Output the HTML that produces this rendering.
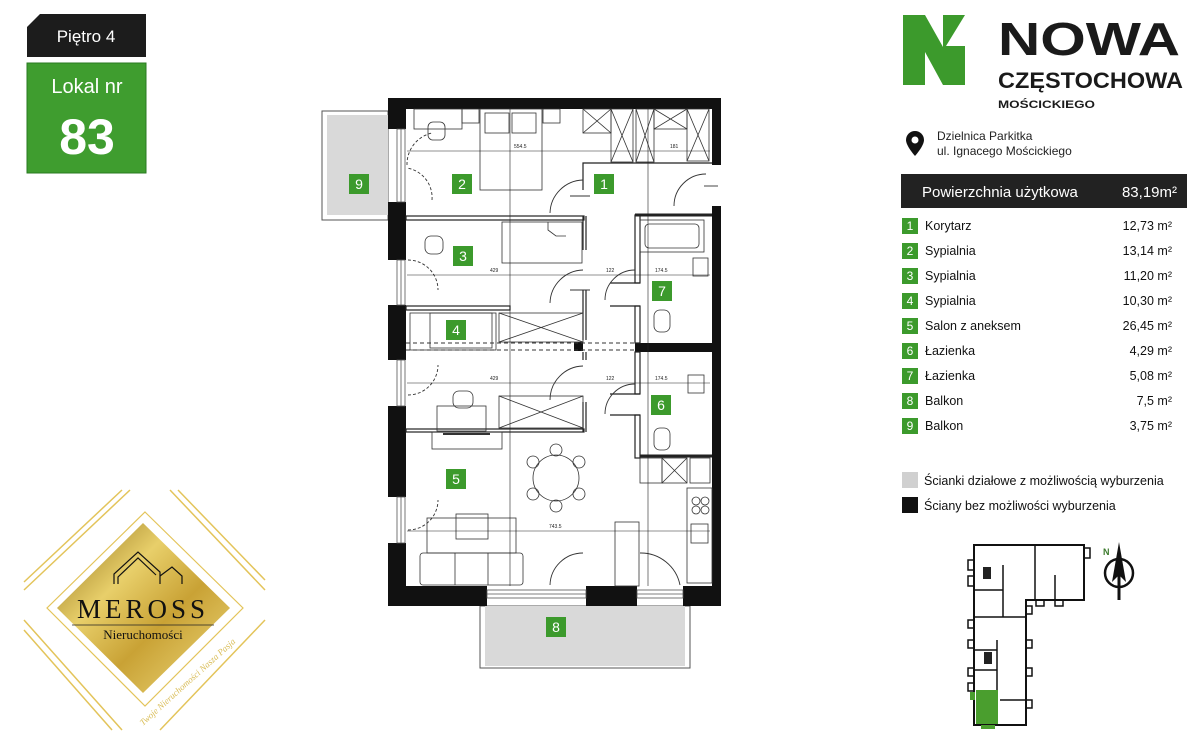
<!DOCTYPE html>
<html><head><meta charset="utf-8"><style>
html,body{margin:0;padding:0;background:#fff;}
body{width:1200px;height:744px;position:relative;overflow:hidden;font-family:"Liberation Sans",sans-serif;}
.abs{position:absolute;}
.row{position:absolute;left:902px;width:270px;height:17px;font-size:12.5px;color:#111;}
.row .sq{position:absolute;left:0;top:0;width:16px;height:16px;background:#3c9a2c;color:#fff;font-size:12px;text-align:center;line-height:16px;}
.row .n{position:absolute;left:23px;top:1px;}
.row .v{position:absolute;right:0;top:1px;}
</style></head><body>

<svg class="abs" style="left:0;top:0" width="160" height="180">
  <polygon points="40,14 146,14 146,57 27,57 27,27" fill="#1c1c1c"/>
  <text x="86" y="42" font-size="17" fill="#fff" text-anchor="middle" font-family="Liberation Sans">Piętro 4</text>
  <rect x="27" y="63" width="119" height="110" fill="#3f9d2f" stroke="#2a7a20"/>
  <text x="87" y="93" font-size="20" fill="#fff" text-anchor="middle" font-family="Liberation Sans">Lokal nr</text>
  <text x="87" y="154" font-size="50" font-weight="bold" fill="#fff" text-anchor="middle" font-family="Liberation Sans">83</text>
</svg>

<svg class="abs" style="left:0;top:480px" width="280" height="264">
  <defs><linearGradient id="g" x1="0" y1="0" x2="1" y2="1">
    <stop offset="0" stop-color="#8a6a14"/><stop offset="0.35" stop-color="#e8cf6a"/><stop offset="0.6" stop-color="#c9a235"/><stop offset="1" stop-color="#f0dc80"/></linearGradient></defs>
  <g fill="none" stroke="#e3c45a" stroke-width="1.5">
    <polyline points="24,110 130,10"/><polyline points="24,102 122,10"/>
    <polyline points="170,10 265,110"/><polyline points="178,10 265,100"/>
    <polyline points="24,140 122,250"/><polyline points="24,150 112,250"/>
    <polyline points="265,140 160,250"/>
    <polygon points="145,32 243,128 145,226 47,128" stroke-width="1.2"/>
  </g>
  <polygon points="143,43 230,128 143,213 57,128" fill="url(#g)"/>
  <g fill="none" stroke="#111" stroke-width="1.2">
    <polyline points="114,104 114,94 138,72 160,92 160,104"/>
    <polyline points="118,104 118,97 138,78 156,95"/>
    <polyline points="160,96 172,87 182,96 182,104"/>
  </g>
  <line x1="72" y1="145" x2="214" y2="145" stroke="#222" stroke-width="0.8"/>
  <text x="143" y="138" font-size="27" fill="#111" text-anchor="middle" font-family="Liberation Serif" letter-spacing="4">MEROSS</text>
  <text x="143" y="159" font-size="13" fill="#111" text-anchor="middle" font-family="Liberation Serif">Nieruchomości</text>
  <text x="0" y="0" font-size="9" fill="#d9bc55" font-style="italic" font-family="Liberation Serif" transform="translate(143,246) rotate(-42)">Twoje Nieruchomości Nasza Pasja</text>
</svg>

<svg class="abs" style="left:0;top:0" width="760" height="700" font-family="Liberation Sans">
  <rect x="322" y="111" width="66" height="109" fill="#fff" stroke="#555"/>
  <rect x="327" y="115" width="61" height="100" fill="#d9d9d9"/>
  <rect x="480" y="606" width="210" height="62" fill="#fff" stroke="#555"/>
  <rect x="485" y="606" width="200" height="60" fill="#d9d9d9"/>
  <g fill="#111">
    <rect x="388" y="98" width="333" height="11"/>
    <rect x="388" y="98" width="18" height="31"/>
    <rect x="388" y="202" width="18" height="58"/>
    <rect x="388" y="305" width="18" height="55"/>
    <rect x="388" y="406" width="18" height="91"/>
    <rect x="388" y="543" width="18" height="63"/>
    <rect x="712" y="98" width="9" height="67"/>
    <rect x="712" y="206" width="9" height="400"/>
    <rect x="388" y="586" width="99" height="20"/>
    <rect x="586" y="586" width="51" height="20"/>
    <rect x="683" y="586" width="38" height="20"/>
    <rect x="635" y="343" width="86" height="9"/>
    <rect x="574" y="342" width="9" height="9"/>
  </g>
  <g fill="none" stroke="#555" stroke-width="0.8">
    <rect x="397" y="129" width="8" height="73"/><line x1="401" y1="129" x2="401" y2="202"/>
    <rect x="397" y="260" width="8" height="45"/><line x1="401" y1="260" x2="401" y2="305"/>
    <rect x="397" y="360" width="8" height="46"/><line x1="401" y1="360" x2="401" y2="406"/>
    <rect x="397" y="497" width="8" height="46"/><line x1="401" y1="497" x2="401" y2="543"/>
    <rect x="487" y="590" width="99" height="8"/><line x1="487" y1="594" x2="586" y2="594"/>
    <rect x="637" y="590" width="46" height="8"/><line x1="637" y1="594" x2="683" y2="594"/>
  </g>
  <g fill="none" stroke="#222" stroke-width="1.2">
    <rect x="406" y="216" width="178" height="4"/>
    <rect x="406" y="306" width="104" height="4"/>
    <rect x="406" y="429" width="178" height="3"/>
    <line x1="583" y1="216" x2="583" y2="250"/><line x1="586" y1="216" x2="586" y2="250"/>
    <line x1="583" y1="290" x2="583" y2="340"/><line x1="586" y1="290" x2="586" y2="340"/>
    <line x1="583" y1="352" x2="583" y2="360"/><line x1="586" y1="352" x2="586" y2="360"/>
    <line x1="583" y1="402" x2="583" y2="432"/><line x1="586" y1="402" x2="586" y2="432"/>
    <polyline points="583,190 583,163 712,163"/>
    <rect x="635" y="215" width="5" height="68"/>
    <rect x="635" y="306" width="5" height="37"/>
    <rect x="635" y="352" width="5" height="42"/>
    <rect x="635" y="415" width="5" height="43"/>
    <line x1="635" y1="215" x2="712" y2="215" stroke-width="3"/>
    <line x1="640" y1="456" x2="712" y2="456" stroke-width="3"/>
    <line x1="610" y1="283" x2="640" y2="283"/><line x1="610" y1="394" x2="640" y2="394"/>
    <line x1="610" y1="306" x2="640" y2="306"/><line x1="610" y1="415" x2="640" y2="415"/>
  </g>
  <g stroke="#333" stroke-width="1" stroke-dasharray="4,3" fill="none">
    <line x1="406" y1="343" x2="635" y2="343"/><line x1="406" y1="350" x2="635" y2="350"/>
  </g>
  <g fill="none" stroke="#333" stroke-width="0.9">
    <path d="M550,213 A34,34 0 0 1 583,180"/><line x1="570" y1="196" x2="590" y2="196"/>
    <path d="M550,303 A34,34 0 0 1 583,270"/><line x1="570" y1="290" x2="590" y2="290"/>
    <path d="M550,400 A34,34 0 0 1 583,366"/>
    <path d="M605,300 A30,30 0 0 1 635,270"/>
    <path d="M605,414 A30,30 0 0 1 635,384"/>
    <path d="M674,206 A32,32 0 0 1 706,174"/><line x1="704" y1="186" x2="718" y2="186"/>
    <path d="M550,585 A33,33 0 0 1 583,553"/>
    <path d="M640,553 A40,40 0 0 1 680,585"/>
    <path d="M407,165 A32,32 0 0 1 432,133" stroke-dasharray="3,2"/>
    <path d="M432,200 A30,30 0 0 0 407,168" stroke-dasharray="3,2"/>
    <path d="M408,260 A30,30 0 0 1 438,290" stroke-dasharray="3,2"/>
    <path d="M408,395 A30,30 0 0 0 438,365" stroke-dasharray="3,2"/>
    <path d="M408,530 A30,30 0 0 0 438,500" stroke-dasharray="3,2"/>
  </g>
  <g fill="none" stroke="#333" stroke-width="0.8">
    <rect x="414" y="109" width="48" height="20"/><rect x="462" y="109" width="17" height="14"/>
    <rect x="480" y="109" width="62" height="81"/><rect x="485" y="113" width="24" height="20"/><rect x="512" y="113" width="24" height="20"/>
    <rect x="543" y="109" width="17" height="14"/>
    <rect x="583" y="109" width="28" height="24"/><line x1="583" y1="109" x2="611" y2="133"/><line x1="611" y1="109" x2="583" y2="133"/>
    <rect x="611" y="109" width="22" height="53"/><line x1="611" y1="109" x2="633" y2="162"/><line x1="633" y1="109" x2="611" y2="162"/>
    <rect x="636" y="109" width="18" height="53"/><line x1="636" y1="109" x2="654" y2="162"/><line x1="654" y1="109" x2="636" y2="162"/>
    <rect x="654" y="109" width="33" height="20"/><line x1="654" y1="109" x2="687" y2="129"/><line x1="687" y1="109" x2="654" y2="129"/>
    <rect x="687" y="109" width="22" height="52"/><line x1="687" y1="109" x2="709" y2="161"/><line x1="709" y1="109" x2="687" y2="161"/>
    <rect x="428" y="122" width="17" height="18" rx="5"/>
    <rect x="502" y="222" width="80" height="41"/><polyline points="548,222 548,230 556,236 566,236"/>
    <rect x="425" y="236" width="18" height="18" rx="6"/>
    <rect x="410" y="313" width="86" height="37"/><rect x="430" y="313" width="62" height="35"/>
    <rect x="499" y="313" width="84" height="29"/><line x1="499" y1="313" x2="583" y2="342"/><line x1="583" y1="313" x2="499" y2="342"/>
    <rect x="499" y="396" width="84" height="32"/><line x1="499" y1="396" x2="583" y2="428"/><line x1="583" y1="396" x2="499" y2="428"/>
    <rect x="437" y="406" width="49" height="25"/><rect x="453" y="391" width="20" height="17" rx="6"/>
    <rect x="432" y="432" width="70" height="17"/><line x1="443" y1="434" x2="490" y2="434" stroke-width="2"/>
    <circle cx="556" cy="478" r="23"/>
    <circle cx="556" cy="450" r="6"/><circle cx="556" cy="506" r="6"/>
    <circle cx="533" cy="462" r="6"/><circle cx="579" cy="462" r="6"/>
    <circle cx="533" cy="494" r="6"/><circle cx="579" cy="494" r="6"/>
    <rect x="427" y="518" width="89" height="35"/><rect x="456" y="514" width="32" height="25"/>
    <rect x="420" y="553" width="103" height="32" rx="3"/><line x1="455" y1="553" x2="455" y2="585"/><line x1="488" y1="553" x2="488" y2="585"/>
    <rect x="615" y="522" width="24" height="64"/>
    <rect x="640" y="220" width="64" height="32"/><rect x="645" y="224" width="54" height="24" rx="4"/>
    <rect x="693" y="258" width="15" height="18"/>
    <rect x="654" y="310" width="16" height="22" rx="6"/>
    <rect x="688" y="375" width="16" height="18"/>
    <rect x="654" y="428" width="16" height="22" rx="6"/>
    <rect x="640" y="458" width="22" height="25"/><rect x="662" y="458" width="25" height="25"/><line x1="662" y1="458" x2="687" y2="483"/><line x1="687" y1="458" x2="662" y2="483"/>
    <rect x="690" y="458" width="20" height="25"/>
    <rect x="687" y="488" width="25" height="95"/>
    <circle cx="696" cy="501" r="4"/><circle cx="705" cy="501" r="4"/><circle cx="696" cy="510" r="4"/><circle cx="705" cy="510" r="4"/>
    <rect x="691" y="524" width="17" height="19"/>
  </g>
  <g stroke="#222" stroke-width="0.6">
    <line x1="407" y1="151" x2="710" y2="151"/>
    <line x1="407" y1="275" x2="710" y2="275"/>
    <line x1="407" y1="383" x2="710" y2="383"/>
    <line x1="407" y1="531" x2="710" y2="531"/>
    <line x1="510" y1="108" x2="510" y2="586"/>
    <line x1="648" y1="108" x2="648" y2="586"/>
  </g>
  <g font-size="5" fill="#222">
    <text x="514" y="148">554.5</text><text x="670" y="148">181</text>
    <text x="490" y="272">429</text><text x="606" y="272">122</text><text x="655" y="272">174.5</text>
    <text x="490" y="380">429</text><text x="606" y="380">122</text><text x="655" y="380">174.5</text>
    <text x="549" y="528">743.5</text>
  </g>
  <g font-size="14" fill="#fff" text-anchor="middle">
    <rect x="349" y="174" width="20" height="20" fill="#3c9a2c"/><text x="359" y="189">9</text>
    <rect x="452" y="174" width="20" height="20" fill="#3c9a2c"/><text x="462" y="189">2</text>
    <rect x="594" y="174" width="20" height="20" fill="#3c9a2c"/><text x="604" y="189">1</text>
    <rect x="453" y="246" width="20" height="20" fill="#3c9a2c"/><text x="463" y="261">3</text>
    <rect x="652" y="281" width="20" height="20" fill="#3c9a2c"/><text x="662" y="296">7</text>
    <rect x="446" y="320" width="20" height="20" fill="#3c9a2c"/><text x="456" y="335">4</text>
    <rect x="651" y="395" width="20" height="20" fill="#3c9a2c"/><text x="661" y="410">6</text>
    <rect x="446" y="469" width="20" height="20" fill="#3c9a2c"/><text x="456" y="484">5</text>
    <rect x="546" y="617" width="20" height="20" fill="#3c9a2c"/><text x="556" y="632">8</text>
  </g>
</svg>

<svg class="abs" style="left:890px;top:0" width="310" height="744" font-family="Liberation Sans">
  <polygon points="13,15 35,15 53,47 53,15 75,15 56,46 75,46 75,85 53,85 35,52 35,85 13,85" fill="#3c9a2c"/>
  <text x="108" y="55" font-size="46" font-weight="bold" fill="#1a1a1a" textLength="182" lengthAdjust="spacingAndGlyphs">NOWA</text>
  <text x="108" y="88" font-size="22" font-weight="bold" fill="#1a1a1a" textLength="185" lengthAdjust="spacingAndGlyphs">CZĘSTOCHOWA</text>
  <text x="108" y="108" font-size="11" font-weight="bold" fill="#1a1a1a" textLength="97" lengthAdjust="spacingAndGlyphs">MOŚCICKIEGO</text>
  <path d="M25,131 a9,9 0 0 1 9,9 c0,6 -9,16 -9,16 c0,0 -9,-10 -9,-16 a9,9 0 0 1 9,-9z" fill="#111"/>
  <circle cx="25" cy="140" r="3.5" fill="#fff"/>
  <text x="47" y="140" font-size="12" fill="#222">Dzielnica Parkitka</text>
  <text x="47" y="155" font-size="12" fill="#222">ul. Ignacego Mościckiego</text>
  <rect x="11" y="174" width="286" height="34" fill="#222"/>
  <text x="32" y="197" font-size="15" fill="#fff">Powierzchnia użytkowa</text>
  <text x="287" y="197" font-size="15" fill="#fff" text-anchor="end">83,19m²</text>
  <rect x="12" y="472" width="16" height="16" fill="#d0d0d0"/>
  <text x="34" y="485" font-size="12.5" fill="#111">Ścianki działowe z możliwością wyburzenia</text>
  <rect x="12" y="497" width="16" height="16" fill="#111"/>
  <text x="34" y="510" font-size="12.5" fill="#111">Ściany bez możliwości wyburzenia</text>
  <g transform="translate(-30,0)">
  <g fill="#fff" stroke="#111" stroke-width="1.5">
    <rect x="130" y="546" width="7" height="8"/><rect x="146" y="546" width="7" height="8"/>
    <rect x="108" y="560" width="6" height="10"/><rect x="108" y="576" width="6" height="10"/>
    <rect x="108" y="620" width="6" height="8"/><rect x="108" y="640" width="6" height="8"/>
    <rect x="108" y="668" width="6" height="8"/><rect x="108" y="683" width="6" height="8"/>
    <rect x="166" y="606" width="6" height="8"/><rect x="166" y="640" width="6" height="8"/>
    <rect x="166" y="668" width="6" height="8"/><rect x="166" y="700" width="6" height="8"/>
    <rect x="224" y="548" width="6" height="10"/>
    <rect x="176" y="600" width="8" height="6"/><rect x="195" y="600" width="8" height="6"/>
    <polygon points="114,545 224,545 224,600 166,600 166,725 114,725" stroke-width="2"/>
    <line x1="114" y1="617" x2="166" y2="617"/>
    <line x1="114" y1="590" x2="143" y2="590"/><line x1="143" y1="590" x2="143" y2="617"/>
    <line x1="114" y1="650" x2="137" y2="650"/><line x1="114" y1="670" x2="137" y2="670"/>
    <line x1="137" y1="640" x2="137" y2="715"/>
    <line x1="143" y1="565" x2="143" y2="590"/><line x1="175" y1="545" x2="175" y2="600"/>
    <line x1="195" y1="575" x2="195" y2="600"/><line x1="140" y1="700" x2="166" y2="700"/>
  </g>
  <rect x="116" y="690" width="22" height="34" fill="#4a9e2e"/>
  <rect x="110" y="692" width="5" height="8" fill="#4a9e2e"/>
  <rect x="121" y="725" width="14" height="4" fill="#4a9e2e"/>
  <rect x="123" y="567" width="8" height="12" fill="#222"/><rect x="124" y="652" width="8" height="12" fill="#222"/>
  </g>
  <circle cx="229" cy="573" r="14" fill="none" stroke="#111" stroke-width="2.5"/>
  <polygon points="229,542 236,582 229,575 222,582" fill="#111"/>
  <line x1="229" y1="560" x2="229" y2="600" stroke="#111" stroke-width="3"/>
  <text x="213" y="555" font-size="9" font-weight="bold" fill="#3c7a2c">N</text>
</svg>

<div class="row" style="top:218px"><div class="sq">1</div><div class="n">Korytarz</div><div class="v">12,73 m²</div></div>
<div class="row" style="top:243px"><div class="sq">2</div><div class="n">Sypialnia</div><div class="v">13,14 m²</div></div>
<div class="row" style="top:268px"><div class="sq">3</div><div class="n">Sypialnia</div><div class="v">11,20 m²</div></div>
<div class="row" style="top:293px"><div class="sq">4</div><div class="n">Sypialnia</div><div class="v">10,30 m²</div></div>
<div class="row" style="top:318px"><div class="sq">5</div><div class="n">Salon z aneksem</div><div class="v">26,45 m²</div></div>
<div class="row" style="top:343px"><div class="sq">6</div><div class="n">Łazienka</div><div class="v">4,29 m²</div></div>
<div class="row" style="top:368px"><div class="sq">7</div><div class="n">Łazienka</div><div class="v">5,08 m²</div></div>
<div class="row" style="top:393px"><div class="sq">8</div><div class="n">Balkon</div><div class="v">7,5 m²</div></div>
<div class="row" style="top:418px"><div class="sq">9</div><div class="n">Balkon</div><div class="v">3,75 m²</div></div>
</body></html>
